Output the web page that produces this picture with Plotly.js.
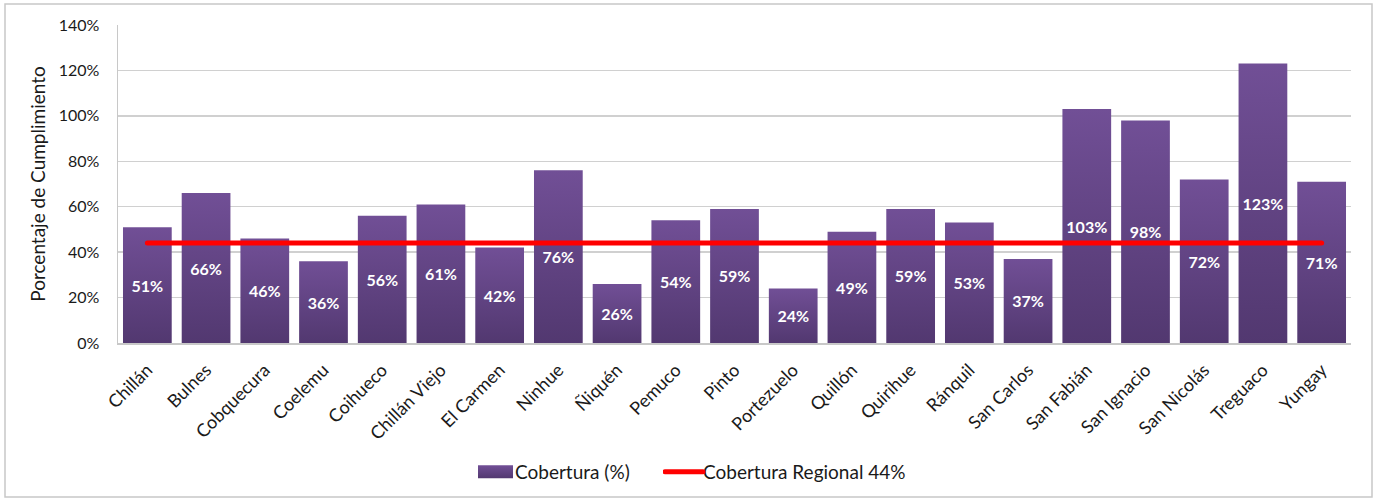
<!DOCTYPE html>
<html>
<head>
<meta charset="utf-8">
<script src="https://cdn.plot.ly/plotly-3.0.1.min.js"></script>
<style>html,body{margin:0;padding:0;background:#fff}#chart{width:1382px;height:500px}</style>
</head>
<body>
<div id="chart"></div>
<script>
const comunas = ["Chillán","Bulnes","Cobquecura","Coelemu","Coihueco","Chillán Viejo","El Carmen","Ninhue","Ñiquén","Pemuco","Pinto","Portezuelo","Quillón","Quirihue","Ránquil","San Carlos","San Fabián","San Ignacio","San Nicolás","Treguaco","Yungay"];
const cobertura = [51,66,46,36,56,61,42,76,26,54,59,24,49,59,53,37,103,98,72,123,71];
const coberturaRegional = 44;
const yTicks = [0,20,40,60,80,100,120,140];
const yTickLabels = yTicks.map(v => v + "%");

const FONT = "Lato, 'Open Sans', sans-serif";

const barTrace = {
  type: "bar",
  name: "Cobertura (%)",
  legend: "legend",
  x: comunas,
  y: cobertura,
  text: cobertura.map(v => v + "%"),
  textposition: "inside",
  insidetextanchor: "middle",
  textangle: 0,
  constraintext: "none",
  textfont: {family: FONT, size: 16, color: "#ffffff", weight: "bold"},
  marker: {color: "#614380", line: {width: 0}},
  hoverinfo: "x+y"
};
const lineTrace = {
  type: "scatter",
  mode: "lines",
  name: "Cobertura Regional 44%",
  legend: "legend2",
  x: comunas,
  y: comunas.map(() => coberturaRegional),
  line: {color: "#ff0000", width: 5},
  hoverinfo: "y"
};

const L = 118, R = 31, T = 25, B = 157, W = 1382, H = 500;
const pw = W - L - R, ph = H - T - B;
const legendFont = {family: FONT, size: 19, color: "#1a1a1a"};
const layout = {
  width: W, height: H,
  margin: {l: L, r: R, t: T, b: B, pad: 0},
  paper_bgcolor: "#ffffff",
  plot_bgcolor: "#ffffff",
  font: {family: FONT, size: 16, color: "#1a1a1a"},
  bargap: 0.17,
  showlegend: true,
  legend: {orientation: "h", xref: "container", yref: "container",
           x: 475 / W, xanchor: "left", y: (500 - 472) / H, yanchor: "middle",
           font: legendFont, itemwidth: 30, bgcolor: "rgba(0,0,0,0)"},
  legend2: {orientation: "h", xref: "container", yref: "container",
           x: 663 / W, xanchor: "left", y: (500 - 472) / H, yanchor: "middle",
           font: legendFont, itemwidth: 30, bgcolor: "rgba(0,0,0,0)"},
  xaxis: {
    type: "category",
    tickangle: -45,
    tickfont: {family: FONT, size: 18, color: "#1a1a1a"},
    ticklabelstandoff: 8,
    showgrid: false,
    showline: true, linecolor: "#c8c8c8", linewidth: 1.5,
    ticks: "", automargin: false
  },
  yaxis: {
    range: [0, 140],
    tickvals: yTicks,
    ticktext: yTickLabels,
    tickfont: {family: FONT, size: 16, color: "#1a1a1a"},
    ticklabelstandoff: 14,
    showgrid: true, gridcolor: "#d0d0d0", gridwidth: 1.5,
    showline: true, linecolor: "#c8c8c8", linewidth: 1.5,
    zeroline: false, ticks: "", ticklen: 0,
    title: {text: "Porcentaje de Cumplimiento", font: {family: FONT, size: 19, color: "#1a1a1a"}, standoff: 8},
    automargin: false
  },
  shapes: [{
    type: "rect", xref: "paper", yref: "paper",
    x0: (5 - L) / pw, x1: (1372 - L) / pw,
    y0: (343 - 497) / ph, y1: (343 - 4) / ph,
    line: {color: "#c8c8c8", width: 1.5}, fillcolor: "rgba(0,0,0,0)", layer: "below"
  }]
};

Plotly.newPlot("chart", [barTrace, lineTrace], layout, {displayModeBar: false, staticPlot: true}).then(function(gd){
  const svg = gd.querySelector("svg.main-svg");
  const ns = "http://www.w3.org/2000/svg";
  let defs = svg.querySelector("defs");
  if (!defs) { defs = document.createElementNS(ns, "defs"); svg.insertBefore(defs, svg.firstChild); }
  const lg = document.createElementNS(ns, "linearGradient");
  lg.setAttribute("id", "barGrad");
  lg.setAttribute("x1", "0"); lg.setAttribute("y1", "0"); lg.setAttribute("x2", "0"); lg.setAttribute("y2", "1");
  [["0", "#714f96"], ["1", "#523870"]].forEach(function(s){
    const st = document.createElementNS(ns, "stop");
    st.setAttribute("offset", s[0]); st.setAttribute("stop-color", s[1]);
    lg.appendChild(st);
  });
  defs.appendChild(lg);
  gd.querySelectorAll(".barlayer .point path").forEach(function(p){ p.style.fill = "url(#barGrad)"; });
  gd.querySelectorAll(".scatterlayer .js-line").forEach(function(p){ p.style.strokeLinecap = "round"; });
  const l1 = gd.querySelector(".legend .traces .legendpoints path");
  if (l1) {
    l1.setAttribute("d", "M-17,-6.5h35v13h-35z");
    l1.style.fill = "url(#barGrad)";
    l1.style.stroke = "none";
  }
  const l2 = gd.querySelector(".legend2 .traces .legendlines path");
  if (l2) {
    l2.setAttribute("d", "M2,0h38");
    l2.style.strokeLinecap = "round";
  }
});
</script>
</body>
</html>
